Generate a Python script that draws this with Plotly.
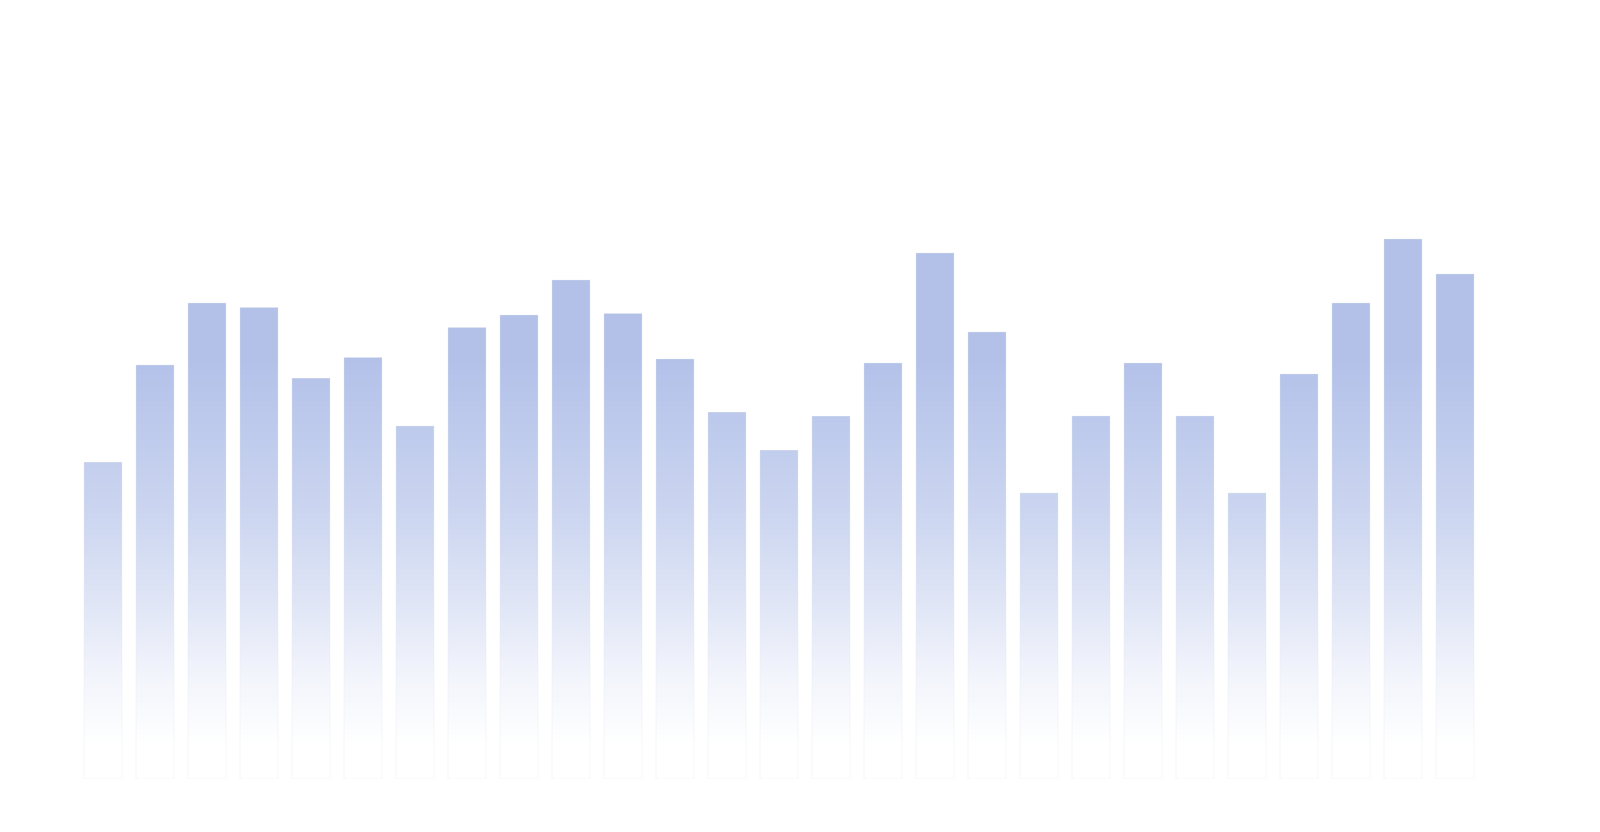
import numpy as np
import plotly.graph_objects as go

# Data
categories = [str(i) for i in range(1, 28)]
values = [63.3, 82.8, 95.2, 94.3, 80.1, 84.3, 70.6, 90.3, 92.8, 99.8,
          93.1, 84.0, 73.3, 65.7, 72.5, 83.2, 105.2, 89.4, 57.2, 72.6,
          83.2, 72.6, 57.2, 81.0, 95.2, 108.0, 101.0]

# Vertical gradient stops (value level -> colour), absolute to the y axis
grad_levels = [84.0, 54.0, 36.0, 20.0, 7.0]
grad_colors = [(179, 193, 233), (203, 213, 240), (223, 229, 246), (243, 245, 252), (255, 255, 255)]

def color_at(v):
    lv = grad_levels[::-1]
    cs = grad_colors[::-1]
    rgb = [np.interp(v, lv, [c[i] for c in cs]) for i in range(3)]
    return "rgb(%d,%d,%d)" % tuple(int(round(c)) for c in rgb)

vals = np.array(values)
fig = go.Figure()

# Solid top colour for full bars
fig.add_trace(go.Bar(x=categories, y=values, base=0,
                     marker=dict(color=color_at(200), line=dict(width=0)),
                     hoverinfo="skip", showlegend=False))

# Gradient: successively lower caps painted over
step = 0.4
levels = np.arange(grad_levels[0], grad_levels[-1] - step, -step)
for lv in levels:
    h = np.minimum(vals, lv)
    fig.add_trace(go.Bar(x=categories, y=h, base=0,
                         marker=dict(color=color_at(lv), line=dict(width=0)),
                         hoverinfo="skip", showlegend=False))

# Outline
fig.add_trace(go.Bar(x=categories, y=values, base=0,
                     marker=dict(color="rgba(0,0,0,0)",
                                 line=dict(width=1, color="rgba(225,228,238,0.35)")),
                     showlegend=False))

fig.update_layout(
    width=1600, height=832,
    barmode="overlay", bargap=14 / 52,
    paper_bgcolor="white", plot_bgcolor="white",
    margin=dict(l=69, r=127, t=21, b=61),
    xaxis=dict(visible=False, range=[-0.5, 26.5]),
    yaxis=dict(visible=False, range=[0, 150]),
)
fig.write_html("out.html", config={"displayModeBar": False})
